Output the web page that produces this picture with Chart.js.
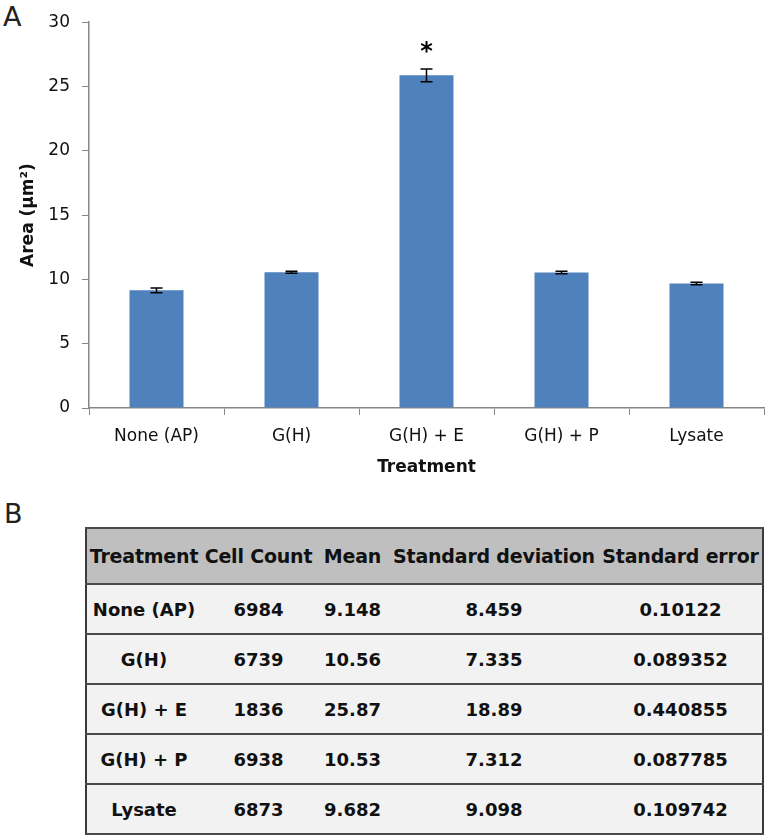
<!DOCTYPE html>
<html lang="en">
<head>
  <meta charset="UTF-8" />
  <title>Area by Treatment</title>
  <script src="https://cdn.jsdelivr.net/npm/chart.js"></script>
  <style>
    body {
      margin: 0;
      background: white;
      font-family: "DejaVu Sans", sans-serif;
    }
    .page {
      position: relative;
      width: 768px;
      height: 838px;
    }
    .panel-label {
      position: absolute;
      font-size: 27px;
      color: #222;
    }
    #chart {
      position: absolute;
      left: 0;
      top: 0;
    }
    table {
      position: absolute;
      left: 85px;
      top: 527px;
      width: 677px;
      border-collapse: collapse;
      table-layout: fixed;
      border-left: 2px solid #3a3a3a;
      border-right: 2px solid #3a3a3a;
    }
    th, td {
      padding: 0;
      text-align: center;
      font-weight: bold;
      white-space: nowrap;
      color: #111;
      border-top: 2px solid #4a4a4a;
      border-bottom: 2px solid #4a4a4a;
    }
    th {
      background: #bfbfbf;
      height: 54px;
      font-size: 19px;
      letter-spacing: -0.2px;
    }
    td {
      background: #f2f2f2;
      height: 48px;
      font-size: 18px;
    }
  </style>
</head>
<body>
<div class="page">
  <div class="panel-label" style="left:3px; top:1px;">A</div>
  <canvas id="chart" width="768" height="490"></canvas>
  <div class="panel-label" style="left:4px; top:498px;">B</div>
  <table id="stats">
    <colgroup>
      <col style="width:115px"><col style="width:115px"><col style="width:73px"><col style="width:210px"><col style="width:164px">
    </colgroup>
    <thead><tr id="head"></tr></thead>
    <tbody id="body"></tbody>
  </table>
</div>

<script>
  const treatments = ['None (AP)', 'G(H)', 'G(H) + E', 'G(H) + P', 'Lysate'];
  const meanArea = [9.148, 10.56, 25.87, 10.53, 9.682];
  const errorBars = [0.18, 0.08, 0.5, 0.1, 0.1];
  const marks = ['', '', '*', '', ''];
  const yTicks = [0, 5, 10, 15, 20, 25, 30];

  const tableHeaders = ['Treatment', 'Cell Count', 'Mean', 'Standard deviation', 'Standard error'];
  const cellCounts = ['6984', '6739', '1836', '6938', '6873'];
  const meanText = ['9.148', '10.56', '25.87', '10.53', '9.682'];
  const stdDevs = ['8.459', '7.335', '18.89', '7.312', '9.098'];
  const stdErrors = ['0.10122', '0.089352', '0.440855', '0.087785', '0.109742'];

  const axisGray = '#878787';
  const font = 'DejaVu Sans';

  // error bars and the significance star, placed with the chart's scales
  const errorBarPlugin = {
    id: 'errorBars',
    afterDatasetsDraw(chart) {
      const meta = chart.getDatasetMeta(0);
      const y = chart.scales.y;
      const c = chart.ctx;
      c.save();
      c.strokeStyle = '#000';
      c.lineWidth = 1.5;
      meta.data.forEach((bar, i) => {
        const top = y.getPixelForValue(meanArea[i] + errorBars[i]);
        const bot = y.getPixelForValue(meanArea[i] - errorBars[i]);
        c.beginPath();
        c.moveTo(bar.x, top); c.lineTo(bar.x, bot);
        c.moveTo(bar.x - 6, top); c.lineTo(bar.x + 6, top);
        c.moveTo(bar.x - 6, bot); c.lineTo(bar.x + 6, bot);
        c.stroke();
        if (marks[i]) {
          c.fillStyle = '#000';
          c.font = 'bold 24px ' + font;
          c.textAlign = 'center';
          c.textBaseline = 'middle';
          c.fillText(marks[i], bar.x, top - 16);
        }
      });
      c.restore();
    }
  };

  new Chart(document.getElementById('chart'), {
    type: 'bar',
    data: {
      labels: treatments,
      datasets: [{
        data: meanArea,
        backgroundColor: '#4f81bd',
        categoryPercentage: 0.8,
        barPercentage: 0.5
      }]
    },
    options: {
      responsive: false,
      animation: false,
      layout: { padding: { left: 14, top: 21, right: 4, bottom: 0 } },
      plugins: { legend: { display: false }, tooltip: { enabled: false } },
      scales: {
        x: {
          grid: { drawOnChartArea: false, color: axisGray, tickLength: 7 },
          border: { color: axisGray, width: 1.5 },
          ticks: { color: '#111', font: { family: font, size: 17 }, padding: 11 },
          title: { display: true, text: 'Treatment', color: '#111', font: { family: font, size: 17, weight: 'bold' }, padding: { top: 0, bottom: 12 } },
          afterFit(scale) { scale.height = 82; }
        },
        y: {
          min: 0,
          max: 30,
          grid: { drawOnChartArea: false, color: axisGray, tickLength: 7 },
          border: { color: axisGray, width: 1.5 },
          afterBuildTicks(scale) { scale.ticks = yTicks.map(v => ({ value: v })); },
          ticks: { color: '#111', font: { family: font, size: 17 }, padding: 12 },
          title: { display: true, text: 'Area (µm²)', color: '#111', font: { family: font, size: 17, weight: 'bold' }, padding: { top: 4, bottom: 0 } },
          afterFit(scale) { scale.width = 75; }
        }
      }
    },
    plugins: [errorBarPlugin]
  });

  // table B
  const head = document.getElementById('head');
  tableHeaders.forEach(h => {
    const th = document.createElement('th');
    th.textContent = h;
    head.appendChild(th);
  });
  const body = document.getElementById('body');
  treatments.forEach((t, i) => {
    const tr = document.createElement('tr');
    [t, cellCounts[i], meanText[i], stdDevs[i], stdErrors[i]].forEach(v => {
      const td = document.createElement('td');
      td.textContent = v;
      tr.appendChild(td);
    });
    body.appendChild(tr);
  });
</script>
</body>
</html>
